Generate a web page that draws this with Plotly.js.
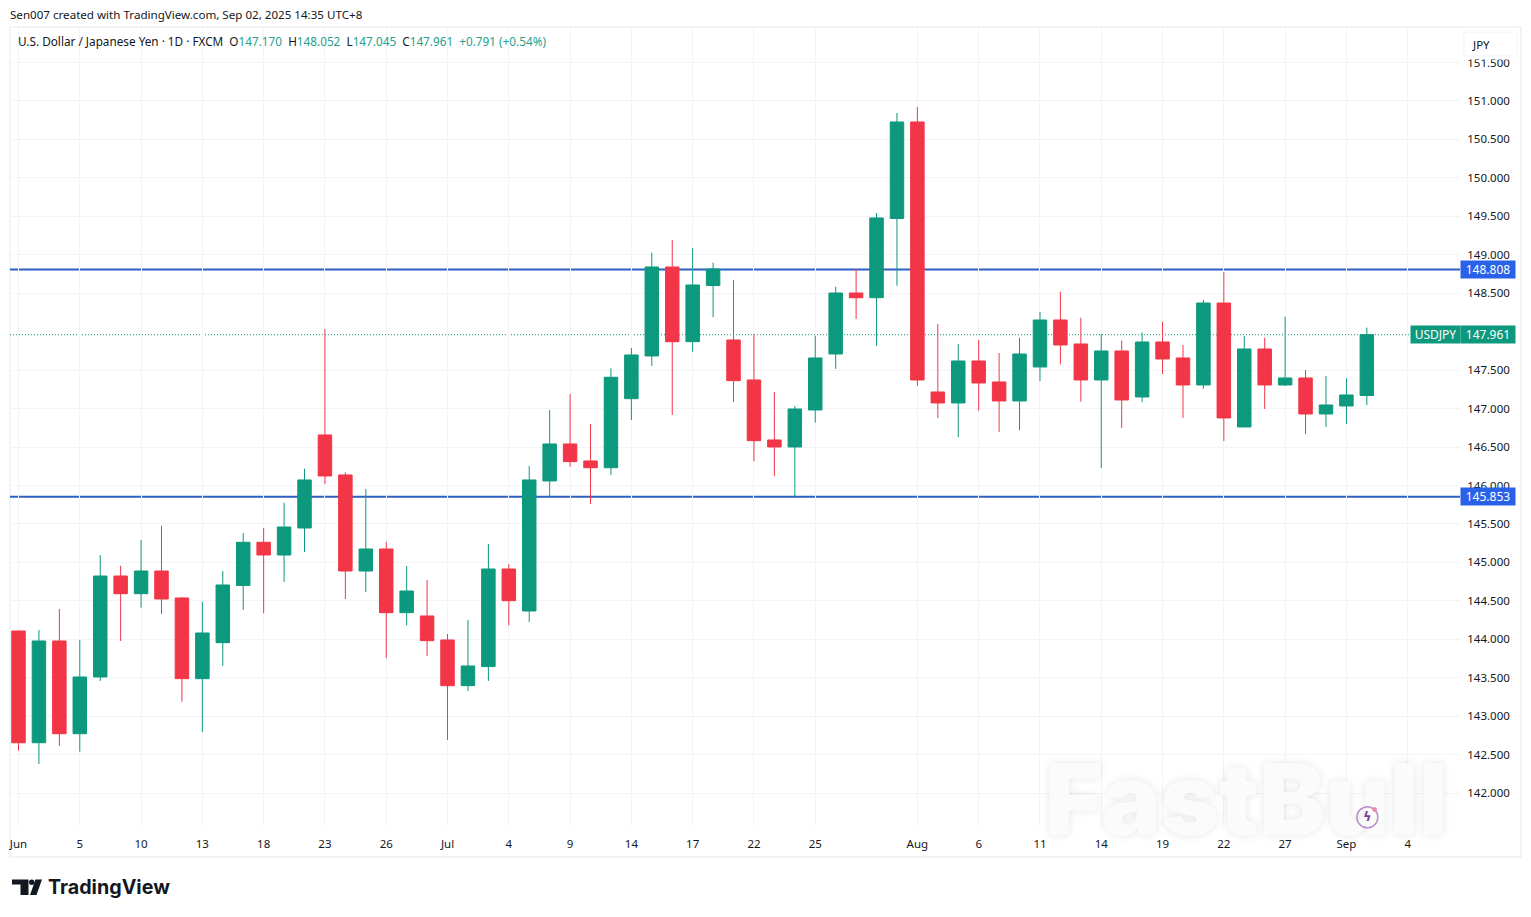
<!DOCTYPE html>
<html><head><meta charset="utf-8">
<script src="https://cdn.plot.ly/plotly-3.0.1.min.js"></script>
<style>html,body{margin:0;padding:0;background:#fff}#c{width:1531px;height:917px}</style></head>
<body><div id="c"></div>
<script>
const dates=["2025-06-02","2025-06-03","2025-06-04","2025-06-05","2025-06-06","2025-06-09","2025-06-10","2025-06-11","2025-06-12","2025-06-13","2025-06-16","2025-06-17","2025-06-18","2025-06-19","2025-06-20","2025-06-23","2025-06-24","2025-06-25","2025-06-26","2025-06-27","2025-06-30","2025-07-01","2025-07-02","2025-07-03","2025-07-04","2025-07-07","2025-07-08","2025-07-09","2025-07-10","2025-07-11","2025-07-14","2025-07-15","2025-07-16","2025-07-17","2025-07-18","2025-07-21","2025-07-22","2025-07-23","2025-07-24","2025-07-25","2025-07-28","2025-07-29","2025-07-30","2025-07-31","2025-08-01","2025-08-04","2025-08-05","2025-08-06","2025-08-07","2025-08-08","2025-08-11","2025-08-12","2025-08-13","2025-08-14","2025-08-15","2025-08-18","2025-08-19","2025-08-20","2025-08-21","2025-08-22","2025-08-25","2025-08-26","2025-08-27","2025-08-28","2025-08-29","2025-09-01","2025-09-02"];
const futureDates=["2025-09-03","2025-09-04"];
const opens=[144.108,142.655,143.978,142.772,143.510,144.823,144.593,144.888,144.537,143.488,143.956,144.700,145.261,145.096,145.447,146.657,146.137,144.888,145.174,144.346,144.303,143.991,143.397,143.645,144.914,144.368,146.059,146.540,146.319,146.231,147.129,147.684,148.841,147.870,148.600,147.892,147.372,146.592,146.501,146.982,147.710,148.503,148.442,149.472,150.727,147.216,147.073,147.619,147.346,147.099,147.541,148.152,147.840,147.372,147.749,147.151,147.866,147.658,147.307,148.373,146.761,147.775,147.307,147.398,146.930,147.034,147.170];
const highs=[144.108,144.121,144.394,143.991,145.096,144.957,145.291,145.477,144.550,144.489,144.888,145.382,145.447,145.776,146.218,148.035,146.172,145.954,145.269,144.953,144.771,144.069,144.251,145.239,144.979,146.254,146.982,147.190,146.800,147.524,147.788,149.027,149.192,149.088,148.897,148.672,147.970,147.216,147.034,147.948,148.585,148.815,149.544,150.844,150.922,148.100,147.840,147.892,147.723,147.922,148.256,148.520,148.182,147.970,147.883,147.992,148.130,147.827,148.412,148.776,147.944,147.922,148.195,147.502,147.424,147.394,148.052];
const lows=[142.551,142.378,142.612,142.538,143.458,143.978,144.411,144.329,143.189,142.795,143.653,144.381,144.338,144.745,145.135,146.020,144.524,144.615,143.753,144.182,143.783,142.691,143.328,143.458,144.182,144.225,145.837,146.245,145.759,146.137,146.852,147.554,146.917,147.740,148.187,147.086,146.315,146.124,145.853,146.817,147.515,148.165,147.814,148.598,147.294,146.878,146.627,146.973,146.696,146.718,147.359,147.576,147.090,146.228,146.748,147.086,147.450,146.878,147.259,146.579,146.761,146.995,147.294,146.666,146.761,146.800,147.045];
const closes=[142.655,143.978,142.772,143.510,144.823,144.593,144.888,144.524,143.488,144.082,144.706,145.261,145.096,145.460,146.072,146.124,144.888,145.174,144.346,144.628,143.982,143.397,143.653,144.914,144.502,146.072,146.540,146.310,146.231,147.407,147.697,148.841,147.870,148.607,148.815,147.363,146.583,146.501,146.995,147.658,148.503,148.442,149.479,150.727,147.372,147.073,147.619,147.333,147.099,147.710,148.152,147.827,147.372,147.749,147.112,147.866,147.645,147.307,148.373,146.878,147.775,147.307,147.398,146.930,147.047,147.177,147.961];
const xTickDates=["2025-06-02","2025-06-05","2025-06-10","2025-06-13","2025-06-18","2025-06-23","2025-06-26","2025-07-01","2025-07-04","2025-07-09","2025-07-14","2025-07-17","2025-07-22","2025-07-25","2025-08-01","2025-08-06","2025-08-11","2025-08-14","2025-08-19","2025-08-22","2025-08-27","2025-09-01","2025-09-04"];
const xTickLabels=["Jun","5","10","13","18","23","26","Jul","4","9","14","17","22","25","Aug","6","11","14","19","22","27","Sep","4"];
const priceTicks=[142,142.5,143,143.5,144,144.5,145,145.5,146,146.5,147,147.5,148.5,149,149.5,150,150.5,151,151.5];
const levels=[148.808,145.853];
const lastPrice=147.961;

const GREEN='#0d997d',RED='#f23647',BLUE='#2d5fc4',TXT='#131722',GRID='#f2f4f8';
const L=10,R=1460,T=27,B=826;
const px=x=>(x-L)/(R-L), py=y=>(B-y)/(B-T);
const FONT='"Noto Sans", sans-serif';
const ohlc=(s,c)=>`<span style="color:${c}">${s}</span>`;
const tc='#26a08a';
const legend='U.S. Dollar / Japanese Yen · 1D · FXCM  O'+ohlc('147.170',tc)+'  H'+ohlc('148.052',tc)+'  L'+ohlc('147.045',tc)+'  C'+ohlc('147.961',tc)+'  '+ohlc('+0.791 (+0.54%)',tc);

const tag=(y,text,bg,xs,w)=>({xref:'paper',yref:'y',x:1,y:y,xanchor:'left',yanchor:'middle',xshift:xs,text:text,showarrow:false,
  bgcolor:bg,width:w,height:15,borderpad:1,align:'center',font:{family:FONT,size:12,color:'#fff'}});
const note=(xp,yp,text,size,color,extra)=>Object.assign({xref:'paper',yref:'paper',x:px(xp),y:py(yp),xanchor:'left',yanchor:'middle',text:text,showarrow:false,font:{family:FONT,size:size,color:color}},extra||{});

const poly=pts=>'M'+pts.map(p=>px(p[0])+','+py(p[1])).join('L')+'Z';
const shapes=[
 {type:'rect',xref:'paper',yref:'paper',x0:0,x1:px(1521),y0:py(857),y1:1,line:{color:'#eff1f6',width:1.5},layer:'below'},
 ...levels.map(v=>({type:'line',xref:'paper',yref:'y',x0:0,x1:1,y0:v,y1:v,line:{color:BLUE,width:2},layer:'below'})),
 {type:'line',xref:'paper',yref:'y',x0:0,x1:px(1411),y0:lastPrice,y1:lastPrice,line:{color:GREEN,width:1,dash:'1px,2px'},layer:'below'},
 {type:'rect',xref:'paper',yref:'paper',x0:px(1462),x1:px(1518),y0:py(59.5),y1:py(30),fillcolor:'#fff',line:{width:0}},
 {type:'rect',xref:'paper',yref:'paper',x0:px(1464),x1:px(1517),y0:py(56),y1:py(32),fillcolor:'#fff',line:{color:'#f2f3f6',width:1}},
 {type:'path',xref:'paper',yref:'paper',path:poly([[12,879.5],[28.5,879.5],[28.5,895],[20.5,895],[20.5,884.5],[12,884.5]]),fillcolor:'#131722',line:{width:0}},
 {type:'circle',xref:'paper',yref:'paper',x0:px(29),x1:px(34.5),y0:py(885),y1:py(879.5),fillcolor:'#131722',line:{width:0}},
 {type:'path',xref:'paper',yref:'paper',path:poly([[35.5,879.5],[42,879.5],[36.5,895],[30,895]]),fillcolor:'#131722',line:{width:0}}
];
const annotations=[
 note(1043,799,'FastBull',99,'#fbfbfb',{font:{family:'Inter, sans-serif',size:99,weight:900,color:'#fbfbfb',shadow:'0 0 8px rgba(0,0,0,0.10)'}}),
 note(1367,815.5,'◯',22,'#b58ac8',{xanchor:'center',font:{family:'DejaVu Sans',size:22,color:'#b58ac8'}}),
 note(1367,816,'<b>ϟ</b>',13,'#7b3fa0',{xanchor:'center',font:{family:'DejaVu Sans',size:13,color:'#7b3fa0'}}),
 note(1374,808,'●',6,'#e88aa8',{xanchor:'center',font:{family:'DejaVu Sans',size:6,color:'#e88aa8'}}),
 note(8,14,'Sen007 created with TradingView.com, Sep 02, 2025 14:35 UTC+8',11.6,TXT),
 note(16,41,legend,11.75,TXT),
 note(46,887,'<b>TradingView</b>',19.7,TXT,{font:{family:'Inter, sans-serif',size:19.7,color:TXT}}),
 note(1470,44,'JPY',11.5,TXT),
 ...levels.map(v=>tag(v,v.toFixed(3),'#2962e8',0,52)),
 tag(lastPrice,'USDJPY',GREEN,-50,47),
 tag(lastPrice,'147.961',GREEN,0,52)
];
const trace={type:'candlestick',x:dates,open:opens,high:highs,low:lows,close:closes,whiskerwidth:0,hoverinfo:'skip',
 increasing:{line:{color:GREEN,width:1},fillcolor:GREEN},
 decreasing:{line:{color:RED,width:1},fillcolor:RED}};
const layout={width:1531,height:917,margin:{l:L,r:1531-R,t:T,b:917-B,pad:0},paper_bgcolor:'#fff',plot_bgcolor:'#fff',showlegend:false,boxgap:0.34,boxgroupgap:0,
 font:{family:FONT,color:TXT},
 xaxis:{type:'category',categoryorder:'array',categoryarray:dates.concat(futureDates),range:[-0.416,70.56],rangeslider:{visible:false},
   tickmode:'array',tickvals:xTickDates,ticktext:xTickLabels,tickangle:0,ticks:'outside',ticklen:7,tickcolor:'rgba(0,0,0,0)',
   showgrid:true,gridcolor:GRID,gridwidth:1,zeroline:false,showline:false,tickfont:{family:FONT,size:11.5,color:TXT}},
 yaxis:{side:'right',range:[141.572,151.962],tickmode:'array',tickvals:priceTicks,ticktext:priceTicks.map(v=>v.toFixed(3)),
   ticks:'outside',ticklen:4,tickcolor:'rgba(0,0,0,0)',showgrid:true,gridcolor:GRID,gridwidth:1,zeroline:false,showline:false,tickfont:{family:FONT,size:11.5,color:TXT}},
 shapes,annotations};
Plotly.newPlot('c',[trace],layout,{displayModeBar:false,staticPlot:true});
</script></body></html>
